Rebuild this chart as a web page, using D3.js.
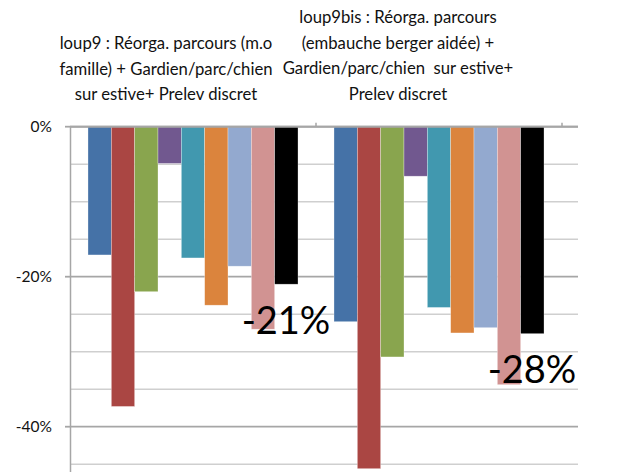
<!DOCTYPE html>
<html>
<head>
<meta charset="utf-8">
<script src="https://cdn.jsdelivr.net/npm/d3@7"></script>
<style>
  body { margin:0; background:#fff; }
  svg { display:block; font-family: Lato, "Open Sans", sans-serif; }
  tspan { white-space: pre; }
</style>
</head>
<body>
<div id="chart"></div>
<script>
var categories = ["loup9", "loup9bis"];
var series = ["s1","s2","s3","s4","s5","s6","s7","s8","s9"];
var colors = ["#4572A7","#AA4643","#89A54E","#71588F","#4198AF","#DB843D","#93A9CF","#D19392","#000000"];
var loup9 = [-17.1, -37.3, -22.0, -4.9, -17.5, -23.8, -18.6, -27.0, -21.0];
var loup9bis = [-26.0, -45.6, -30.7, -6.6, -24.1, -27.5, -26.8, -34.4, -27.6];
var totals = ["-21%", "-28%"];
var yTicks = [0, -20, -40];
var titles = [
  ["loup9 : Réorga. parcours (m.o", "famille) + Gardien/parc/chien", "sur estive+ Prelev discret"],
  ["loup9bis : Réorga. parcours", "(embauche berger aidée) +", "Gardien/parc/chien  sur estive+", "Prelev discret"]
];

var W = 624, H = 472;
var svg = d3.select("#chart").append("svg")
  .attr("width", W).attr("height", H);

var x = d3.scaleBand().domain(categories).range([70, 562]);
var xs = d3.scaleBand().domain(series).range([0, x.bandwidth()]).paddingOuter(0.771);
var y = d3.scaleLinear().domain([0, -40]).range([126.7, 426.7]);

var grid = d3.range(0, -50, -5);
svg.append("g").selectAll("line")
  .data(grid)
  .enter().append("line")
    .attr("x1", 70).attr("x2", 578)
    .attr("y1", d => y(d)).attr("y2", d => y(d))
    .attr("stroke", d => d % 20 === 0 ? "#a6a6a6" : "#cfcfcf")
    .attr("stroke-width", d => d % 20 === 0 ? 1.8 : 1.5);

// y axis
svg.append("line")
  .attr("x1", 70.5).attr("x2", 70.5)
  .attr("y1", y(0)).attr("y2", H)
  .attr("stroke", "#a6a6a6").attr("stroke-width", 1.5);

svg.append("g").selectAll("line")
  .data(yTicks)
  .enter().append("line")
    .attr("x1", 65).attr("x2", 70)
    .attr("y1", d => y(d)).attr("y2", d => y(d))
    .attr("stroke", "#a6a6a6").attr("stroke-width", 1.8);

svg.append("g").selectAll("text")
  .data(yTicks)
  .enter().append("text")
    .attr("x", 52).attr("y", d => y(d))
    .attr("dy", "0.35em")
    .attr("text-anchor", "end")
    .attr("font-size", 15.5)
    .attr("fill", "#111")
    .text(d => d + "%");

// bars
var data = [loup9, loup9bis];
var groups = svg.append("g").selectAll("g")
  .data(categories)
  .enter().append("g")
    .attr("transform", d => "translate(" + x(d) + ",0)");

groups.selectAll("rect")
  .data((c, i) => data[i].map((v, j) => ({ s: series[j], v: v, c: colors[j] })))
  .enter().append("rect")
    .attr("x", d => xs(d.s))
    .attr("width", xs.bandwidth())
    .attr("y", y(0))
    .attr("height", d => y(d.v) - y(0))
    .attr("fill", d => d.c)
    .attr("stroke", "#fff").attr("stroke-width", 0.6).attr("stroke-opacity", 0.5);

// category axis at 0
svg.append("line")
  .attr("x1", 70).attr("x2", 578)
  .attr("y1", y(0)).attr("y2", y(0))
  .attr("stroke", "#a6a6a6").attr("stroke-width", 2);
svg.append("g").selectAll("line")
  .data(categories)
  .enter().append("line")
    .attr("x1", d => x(d) + x.bandwidth()).attr("x2", d => x(d) + x.bandwidth())
    .attr("y1", y(0) - 4).attr("y2", y(0))
    .attr("stroke", "#a6a6a6").attr("stroke-width", 1.5);

// total labels
var totalPos = [[286, 334], [532, 383]];
svg.append("g").selectAll("text")
  .data(totals)
  .enter().append("text")
    .attr("x", (d, i) => totalPos[i][0]).attr("y", (d, i) => totalPos[i][1])
    .attr("text-anchor", "middle")
    .attr("font-size", 38)
    .attr("fill", "#000")
    .text(d => d);

// titles
var titlePos = [[166, 43], [398, 17]];
titles.forEach(function(lines, i){
  svg.append("text")
    .attr("text-anchor", "middle")
    .attr("font-size", 16.7)
    .attr("fill", "#111")
    .selectAll("tspan")
    .data(lines)
    .enter().append("tspan")
      .attr("x", titlePos[i][0])
      .attr("y", (d, k) => titlePos[i][1] + k * 25.7)
      .attr("dy", "0.35em")
      .text(d => d);
});
</script>
</body>
</html>
